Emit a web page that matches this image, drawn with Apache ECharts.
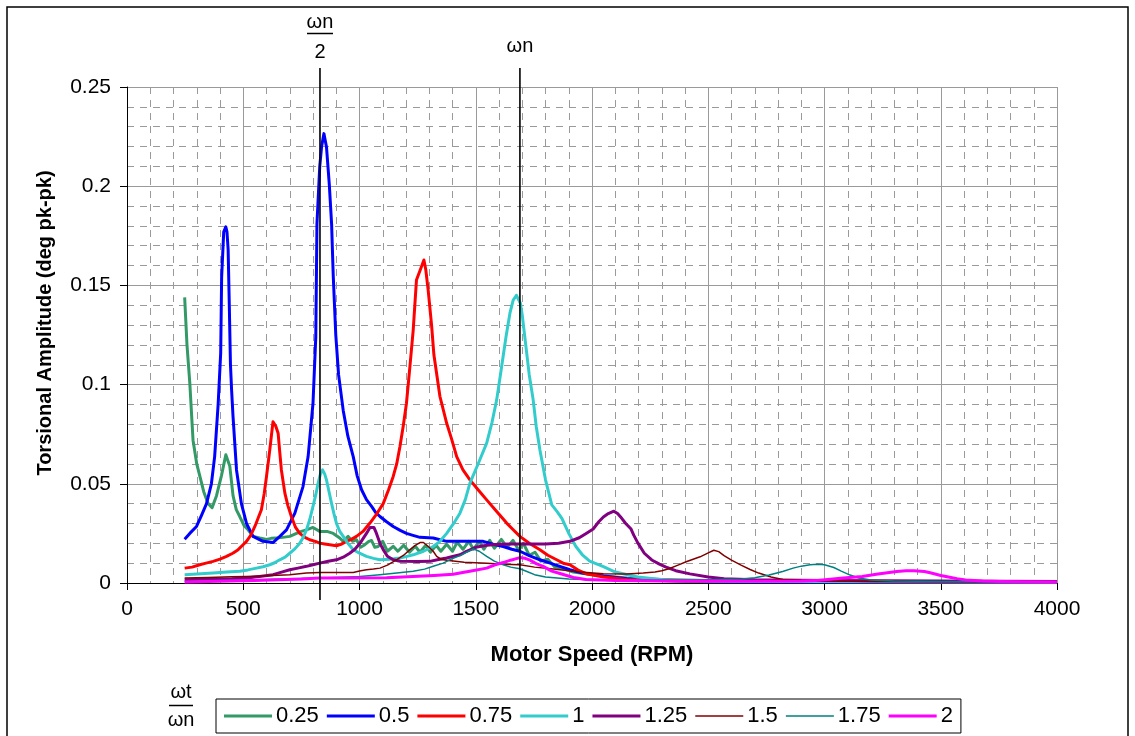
<!DOCTYPE html>
<html>
<head>
<meta charset="utf-8">
<script src="https://cdn.jsdelivr.net/npm/echarts@6/dist/echarts.min.js"></script>
<style>
  html, body { margin: 0; padding: 0; background: #fff; }
  #chart { width: 1135px; height: 736px; }
</style>
</head>
<body>
<div id="chart"></div>
<script>
// Torsional amplitude vs motor speed, one curve per ratio ωt/ωn
const ratioNames = ['0.25', '0.5', '0.75', '1', '1.25', '1.5', '1.75', '2'];
const seriesColors = ['#339966', '#0000FF', '#FF0000', '#33CCCC', '#800080', '#800000', '#008080', '#FF00FF'];
const seriesWidths = [3, 3, 3, 3, 3, 1.5, 1.5, 3];

// natural frequency markers (RPM)
const omegaHalf = 830;
const omegaN = 1690;

const xTicks = { min: 0, max: 4000, step: 500 };
const yTicks = { min: 0, max: 0.25, step: 0.05 };

// [RPM, deg pk-pk]
const r025 = [[248,0.144],[258,0.12],[270,0.101],[284,0.072],[300,0.06],[313,0.054],[330,0.046],[349,0.040],[366,0.038],[385,0.044],[406,0.054],[425,0.0646],[442,0.059],[456,0.044],[470,0.037],[485,0.0335],[503,0.029],[521,0.0268],[542,0.0235],[571,0.0227],[600,0.022],[620,0.0225],[643,0.0227],[670,0.023],[700,0.0235],[729,0.025],[750,0.026],[772,0.0268],[800,0.028],[829,0.026],[860,0.026],[887,0.025],[915,0.0227],[930,0.021],[951,0.0235],[970,0.021],[987,0.0218],[1005,0.018],[1023,0.0193],[1040,0.021],[1052,0.0214],[1066,0.018],[1080,0.0184],[1100,0.021],[1120,0.016],[1145,0.0185],[1165,0.016],[1190,0.019],[1215,0.0155],[1240,0.0185],[1260,0.0155],[1285,0.019],[1305,0.0155],[1330,0.019],[1350,0.016],[1375,0.0195],[1400,0.016],[1420,0.0205],[1445,0.017],[1470,0.021],[1490,0.017],[1515,0.021],[1535,0.017],[1560,0.0215],[1580,0.0175],[1610,0.022],[1635,0.018],[1660,0.0215],[1685,0.0165],[1705,0.02],[1730,0.014],[1755,0.0155],[1780,0.011],[1810,0.012],[1840,0.008],[1870,0.0075],[1920,0.0055],[1980,0.0045],[2050,0.0035],[2150,0.0025],[2300,0.0018],[2500,0.0012],[2800,0.0008],[3200,0.0006],[3600,0.0005],[4000,0.0004]];

const r050 = [[248,0.0221],[270,0.025],[299,0.0285],[320,0.034],[342,0.040],[363,0.050],[377,0.0637],[392,0.09],[403,0.116],[407,0.154],[416,0.177],[420,0.178],[425,0.1795],[430,0.177],[435,0.168],[440,0.14],[445,0.11],[450,0.097],[456,0.084],[471,0.057],[492,0.040],[514,0.030],[542,0.0235],[585,0.021],[628,0.0204],[650,0.0227],[686,0.0268],[722,0.0352],[757,0.0486],[779,0.0637],[800,0.0906],[812,0.124],[817,0.181],[829,0.21],[837,0.22],[847,0.2265],[858,0.2198],[870,0.201],[880,0.181],[887,0.155],[898,0.125],[910,0.105],[930,0.087],[950,0.074],[973,0.0637],[990,0.054],[1009,0.047],[1030,0.042],[1052,0.0386],[1070,0.0355],[1088,0.0335],[1115,0.031],[1145,0.0285],[1175,0.0265],[1202,0.025],[1230,0.024],[1260,0.023],[1317,0.0227],[1375,0.021],[1432,0.021],[1480,0.021],[1532,0.021],[1575,0.0195],[1618,0.0184],[1655,0.017],[1690,0.016],[1730,0.0138],[1776,0.0117],[1820,0.01],[1862,0.0084],[1905,0.0067],[1960,0.005],[2050,0.0035],[2150,0.0022],[2300,0.0012],[2500,0.0006],[3000,0.0004],[4000,0.0003]];

const r075 = [[248,0.0075],[280,0.008],[313,0.0092],[340,0.01],[370,0.0109],[400,0.012],[428,0.0134],[455,0.015],[478,0.0168],[497,0.019],[514,0.021],[532,0.024],[550,0.0285],[565,0.033],[578,0.0369],[590,0.045],[600,0.0537],[614,0.067],[628,0.0813],[640,0.079],[650,0.0755],[657,0.066],[664,0.057],[679,0.0453],[692,0.039],[707,0.0335],[725,0.028],[743,0.025],[765,0.023],[786,0.0218],[810,0.021],[829,0.0201],[850,0.0197],[872,0.0193],[901,0.0188],[920,0.0195],[944,0.021],[965,0.022],[987,0.0235],[1015,0.026],[1045,0.0302],[1075,0.035],[1102,0.040],[1125,0.047],[1145,0.0537],[1160,0.06],[1174,0.0688],[1188,0.079],[1202,0.0906],[1216,0.108],[1231,0.1275],[1245,0.1527],[1262,0.158],[1277,0.1628],[1285,0.158],[1295,0.148],[1310,0.13],[1320,0.115],[1346,0.094],[1375,0.0805],[1395,0.073],[1418,0.0637],[1445,0.057],[1475,0.052],[1510,0.047],[1547,0.0419],[1590,0.036],[1633,0.0302],[1660,0.027],[1690,0.0235],[1730,0.02],[1776,0.0168],[1810,0.014],[1848,0.0117],[1880,0.0098],[1905,0.0092],[1940,0.0065],[1974,0.0047],[2050,0.003],[2150,0.0018],[2300,0.0012],[2600,0.0008],[3000,0.0006],[4000,0.0005]];

const r100 = [[248,0.0042],[300,0.0045],[370,0.005],[430,0.0055],[485,0.0059],[520,0.0066],[557,0.0075],[585,0.0082],[614,0.0092],[635,0.0102],[657,0.0117],[680,0.013],[700,0.015],[722,0.0172],[743,0.020],[758,0.023],[772,0.0268],[786,0.032],[800,0.0386],[812,0.0445],[822,0.0503],[832,0.055],[841,0.057],[850,0.055],[858,0.052],[869,0.046],[880,0.040],[890,0.035],[901,0.030],[915,0.026],[930,0.0235],[950,0.02],[973,0.0168],[1000,0.015],[1030,0.0134],[1060,0.0124],[1088,0.0117],[1130,0.012],[1174,0.0126],[1200,0.0133],[1231,0.0142],[1275,0.016],[1317,0.0184],[1346,0.021],[1375,0.025],[1405,0.03],[1432,0.0352],[1455,0.042],[1475,0.0503],[1510,0.06],[1547,0.0705],[1570,0.081],[1590,0.0923],[1610,0.108],[1630,0.124],[1647,0.136],[1661,0.1426],[1675,0.145],[1683,0.145],[1692,0.141],[1700,0.135],[1715,0.12],[1730,0.105],[1747,0.0923],[1760,0.079],[1776,0.067],[1800,0.052],[1827,0.0394],[1850,0.036],[1871,0.0324],[1900,0.025],[1930,0.0185],[1960,0.014],[1990,0.011],[2049,0.0082],[2100,0.0055],[2197,0.003],[2345,0.0012],[2600,0.0008],[3000,0.0007],[3500,0.0006],[4000,0.0005]];

const r125 = [[248,0.0017],[350,0.002],[450,0.0022],[514,0.0025],[570,0.0033],[628,0.0042],[665,0.0055],[700,0.0067],[735,0.0075],[772,0.0084],[800,0.0092],[829,0.010],[865,0.011],[901,0.0117],[930,0.013],[958,0.015],[980,0.017],[1002,0.020],[1016,0.0225],[1030,0.025],[1045,0.028],[1052,0.0288],[1062,0.028],[1073,0.025],[1088,0.02],[1102,0.0168],[1120,0.0135],[1145,0.0117],[1175,0.011],[1202,0.0109],[1250,0.0108],[1303,0.0109],[1340,0.0118],[1375,0.0126],[1405,0.0135],[1432,0.0142],[1460,0.016],[1500,0.018],[1547,0.019],[1600,0.0195],[1650,0.0196],[1693,0.0196],[1750,0.0196],[1800,0.0196],[1856,0.02],[1905,0.021],[1945,0.0228],[1975,0.025],[2005,0.0272],[2030,0.031],[2049,0.0333],[2070,0.035],[2094,0.0362],[2110,0.035],[2123,0.0333],[2145,0.03],[2168,0.0272],[2180,0.024],[2197,0.0202],[2225,0.015],[2257,0.0116],[2290,0.0095],[2316,0.0081],[2360,0.0062],[2421,0.0046],[2500,0.003],[2568,0.0022],[2700,0.0016],[3000,0.0012],[3500,0.001],[4000,0.0008]];

const r150 = [[248,0.0025],[350,0.0028],[450,0.0031],[514,0.0033],[600,0.0037],[700,0.0042],[772,0.005],[829,0.0053],[900,0.0053],[973,0.0053],[1000,0.006],[1030,0.0067],[1060,0.007],[1088,0.0075],[1120,0.009],[1159,0.0117],[1190,0.014],[1217,0.0168],[1240,0.019],[1260,0.0204],[1275,0.0204],[1296,0.0184],[1317,0.016],[1332,0.0134],[1350,0.012],[1375,0.0115],[1450,0.0105],[1547,0.010],[1620,0.0095],[1690,0.0092],[1753,0.008],[1833,0.007],[1950,0.0055],[2049,0.0047],[2150,0.0045],[2220,0.005],[2271,0.0055],[2300,0.0062],[2331,0.0072],[2370,0.009],[2405,0.0107],[2435,0.012],[2465,0.0132],[2500,0.0152],[2524,0.0165],[2545,0.0158],[2568,0.0138],[2600,0.0115],[2641,0.009],[2680,0.0068],[2717,0.005],[2770,0.003],[2821,0.0018],[2900,0.0012],[3200,0.0008],[3600,0.0006],[4000,0.0005]];

const r175 = [[248,0.0008],[400,0.0012],[550,0.0017],[700,0.0021],[829,0.0025],[920,0.0029],[1002,0.0033],[1088,0.0042],[1160,0.005],[1231,0.0059],[1280,0.007],[1317,0.0084],[1360,0.010],[1403,0.0125],[1432,0.0138],[1460,0.0155],[1489,0.0172],[1515,0.016],[1547,0.0134],[1580,0.011],[1618,0.0092],[1650,0.008],[1690,0.0072],[1720,0.0058],[1753,0.0042],[1800,0.003],[1900,0.002],[2049,0.0015],[2300,0.0015],[2500,0.0017],[2643,0.002],[2700,0.0027],[2762,0.004],[2820,0.0058],[2865,0.0075],[2900,0.0085],[2938,0.0092],[2970,0.0094],[3000,0.0092],[3040,0.0078],[3072,0.006],[3110,0.004],[3147,0.0025],[3200,0.0015],[3300,0.001],[3500,0.0008],[3800,0.0006],[4000,0.0005]];

const r200 = [[248,0.0005],[350,0.0008],[450,0.001],[550,0.0013],[650,0.0017],[750,0.002],[829,0.0025],[950,0.0025],[1116,0.0026],[1231,0.0033],[1320,0.0038],[1403,0.0044],[1432,0.005],[1480,0.006],[1547,0.0075],[1580,0.009],[1618,0.0103],[1650,0.0115],[1690,0.0128],[1710,0.0125],[1733,0.0115],[1760,0.0098],[1790,0.0084],[1827,0.006],[1862,0.0048],[1920,0.0028],[1974,0.0018],[2100,0.0012],[2300,0.001],[2600,0.0009],[2900,0.001],[2960,0.0012],[3014,0.0018],[3080,0.0025],[3162,0.0033],[3230,0.0045],[3311,0.0058],[3350,0.0062],[3385,0.0062],[3430,0.0058],[3459,0.005],[3500,0.0038],[3533,0.003],[3570,0.0022],[3607,0.0015],[3680,0.001],[3756,0.0008],[3850,0.0006],[4000,0.0005]];

const curves = [r025, r050, r075, r100, r125, r150, r175, r200];

const FONT = 'Liberation Sans, Arial, sans-serif';
const chart = echarts.init(document.getElementById('chart'), null, { renderer: 'canvas' });

const gridLine = '#9a9a9a';
const plainNumber = v => String(v);

// legend swatch: a flat bar whose aspect gives the line thickness
const swatch = w => 'path://M0,0h' + (48 / w) + 'v1h-' + (48 / w) + 'z';

chart.setOption({
  animation: false,
  backgroundColor: '#ffffff',
  grid: { left: 127, top: 87, right: 78, bottom: 153, containLabel: false },
  xAxis: {
    type: 'value',
    min: xTicks.min, max: xTicks.max, interval: xTicks.step,
    axisLine: { show: true, onZero: false, lineStyle: { color: '#000', width: 1 } },
    axisTick: { show: true, length: 7, lineStyle: { color: '#000' } },
    axisLabel: { color: '#000', fontFamily: FONT, fontSize: 21, margin: 16, formatter: plainNumber },
    splitLine: { show: true, lineStyle: { color: gridLine, width: 1 } },
    minorTick: { show: false, splitNumber: 5 },
    minorSplitLine: { show: true, lineStyle: { color: gridLine, width: 1, type: [7, 6] } }
  },
  yAxis: {
    type: 'value',
    min: yTicks.min, max: yTicks.max, interval: yTicks.step,
    axisLine: { show: true, lineStyle: { color: '#000', width: 1 } },
    axisTick: { show: true, length: 7, lineStyle: { color: '#000' } },
    axisLabel: { color: '#000', fontFamily: FONT, fontSize: 21, margin: 16, formatter: plainNumber },
    splitLine: { show: true, lineStyle: { color: gridLine, width: 1 } },
    minorTick: { show: false, splitNumber: 5 },
    minorSplitLine: { show: true, lineStyle: { color: gridLine, width: 1, type: [7, 6] } }
  },
  legend: {
    left: 216, top: 699,
    orient: 'horizontal',
    data: ratioNames.map((name, i) => ({ name: name, icon: swatch(seriesWidths[i]) })),
    itemWidth: 48, itemHeight: 14, itemGap: 8,
    symbolKeepAspect: true,
    padding: [6, 8, 6, 8],
    borderColor: '#000', borderWidth: 1,
    textStyle: { color: '#000', fontFamily: FONT, fontSize: 22, padding: [0, 0, 0, -1] }
  },
  series: ratioNames.map((name, i) => ({
    name: name,
    type: 'line',
    data: curves[i],
    symbol: 'none',
    showSymbol: false,
    color: seriesColors[i],
    itemStyle: { color: seriesColors[i] },
    lineStyle: { color: seriesColors[i], width: seriesWidths[i], join: 'round' },
    z: 2 + i
  }))
});

// markers, fraction labels, axis titles and outer frame
function drawOverlay() {
  const top = chart.convertToPixel({ gridIndex: 0 }, [0, yTicks.max])[1];
  const bottom = chart.convertToPixel({ gridIndex: 0 }, [0, yTicks.min])[1];
  const xHalf = chart.convertToPixel({ gridIndex: 0 }, [omegaHalf, 0])[0];
  const xFull = chart.convertToPixel({ gridIndex: 0 }, [omegaN, 0])[0];
  const lineTop = top - 19;
  const lineBottom = bottom + 17;
  const txt = (x, y, s, size, bold, extra) => Object.assign({
    type: 'text', x: x, y: y, z: 50,
    style: { text: s, fill: '#000', font: (bold ? 'bold ' : '') + size + 'px ' + FONT, align: 'center', verticalAlign: 'middle' }
  }, extra || {});
  const seg = (x1, y1, x2, y2, w) => ({
    type: 'line', z: 50,
    shape: { x1: x1, y1: y1, x2: x2, y2: y2 },
    style: { stroke: '#000', lineWidth: w }
  });

  chart.setOption({
    graphic: [
      { type: 'rect', z: 60, shape: { x: 7, y: 7, width: 1121, height: 760 }, style: { fill: 'none', stroke: '#000', lineWidth: 1.5 } },
      seg(xHalf, lineTop, xHalf, lineBottom, 1.6),
      seg(xFull, lineTop, xFull, lineBottom, 1.6),
      txt(xHalf, 22, 'ωn', 20, false),
      seg(xHalf - 13, 33.5, xHalf + 13, 33.5, 1.5),
      txt(xHalf, 52, '2', 20, false),
      txt(xFull, 46, 'ωn', 20, false),
      txt(181, 692, 'ωt', 20, false),
      seg(169, 705.5, 193, 705.5, 1.5),
      txt(181, 720, 'ωn', 20, false),
      txt(592, 655, 'Motor Speed (RPM)', 22, true),
      txt(45, 323, 'Torsional Amplitude (deg pk-pk)', 20, true, { rotation: Math.PI / 2 })
    ]
  });
}
drawOverlay();
</script>
</body>
</html>
